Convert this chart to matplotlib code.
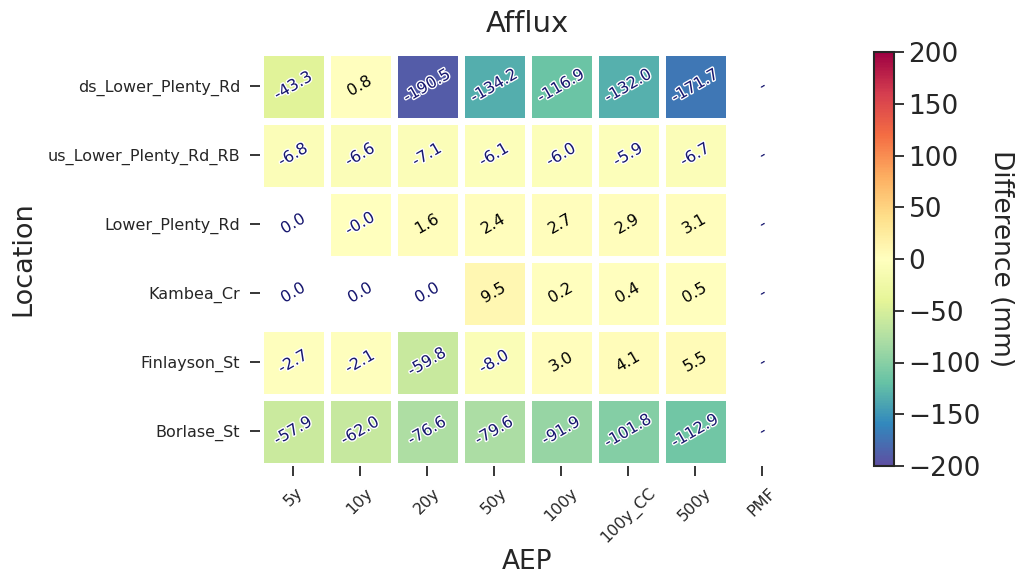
import numpy as np
import matplotlib
matplotlib.use("Agg")
import matplotlib.pyplot as plt
import matplotlib.patheffects as pe

locations = ["ds_Lower_Plenty_Rd", "us_Lower_Plenty_Rd_RB", "Lower_Plenty_Rd",
             "Kambea_Cr", "Finlayson_St", "Borlase_St"]
aep = ["5y", "10y", "20y", "50y", "100y", "100y_CC", "500y", "PMF"]

# afflux (mm), nan = no result (PMF)
ds_lower_plenty = [-43.3, 0.8, -190.5, -134.2, -116.9, -132.0, -171.7, np.nan]
us_lower_plenty_rb = [-6.8, -6.6, -7.1, -6.1, -6.0, -5.9, -6.7, np.nan]
lower_plenty = [0.0, -0.01, 1.6, 2.4, 2.7, 2.9, 3.1, np.nan]
kambea = [0.0, 0.0, 0.0, 9.5, 0.2, 0.4, 0.5, np.nan]
finlayson = [-2.7, -2.1, -59.8, -8.0, 3.0, 4.1, 5.5, np.nan]
borlase = [-57.9, -62.0, -76.6, -79.6, -91.9, -101.8, -112.9, np.nan]

data = np.array([ds_lower_plenty, us_lower_plenty_rb, lower_plenty,
                 kambea, finlayson, borlase])

txt = '#262626'
plt.rcParams['text.color'] = txt
plt.rcParams['axes.labelcolor'] = txt
plt.rcParams['xtick.color'] = txt
plt.rcParams['ytick.color'] = txt

fig = plt.figure(figsize=(10.22, 5.78), dpi=100)
ax = fig.add_axes([259.5/1022, 1-465.5/578, 536/1022, 414/578])
cax = fig.add_axes([874/1022, 1-466/578, 20/1022, 414/578])

masked = np.ma.masked_where(np.isnan(data) | (data == 0), data)
mesh = ax.pcolormesh(masked, cmap='Spectral_r', vmin=-200, vmax=200,
                     edgecolors='white', linewidth=5)
ax.set_xlim(0, len(aep))
ax.set_ylim(len(locations), 0)

for i in range(len(locations)):
    for j in range(len(aep)):
        v = data[i, j]
        if np.isnan(v):
            s = '-'
            col = 'midnightblue'
            fx = []
        elif v > 0:
            s = '{:.1f}'.format(v)
            col = 'black'
            fx = []
        else:
            s = '{:.1f}'.format(v)
            col = 'midnightblue'
            fx = [pe.withStroke(linewidth=2, foreground='white')]
        ax.text(j + 0.5, i + 0.5, s, ha='center', va='center', rotation=30,
                fontsize=11.5, color=col, path_effects=fx)

ax.set_xticks(np.arange(len(aep)) + 0.5)
ax.set_xticklabels(aep, rotation=45, fontsize=11.5)
ax.set_yticks(np.arange(len(locations)) + 0.5)
ax.set_yticklabels(locations, fontsize=11.5)
ax.tick_params(length=7, width=1.3, pad=7)
for sp in ax.spines.values():
    sp.set_visible(False)
ax.set_xlabel('AEP', fontsize=19, labelpad=2)
ax.set_ylabel('Location', fontsize=19.5, labelpad=8)
ax.set_title('Afflux', fontsize=21, pad=14)

cb = fig.colorbar(mesh, cax=cax)
cb.set_ticks([-200, -150, -100, -50, 0, 50, 100, 150, 200])
cb.ax.tick_params(labelsize=19, length=7, width=1.3)
cb.outline.set_linewidth(1.5)
cb.outline.set_edgecolor(txt)
cb.set_label('Difference (mm)', fontsize=19, rotation=270, labelpad=24)

fig.savefig('out.png', dpi=100)
